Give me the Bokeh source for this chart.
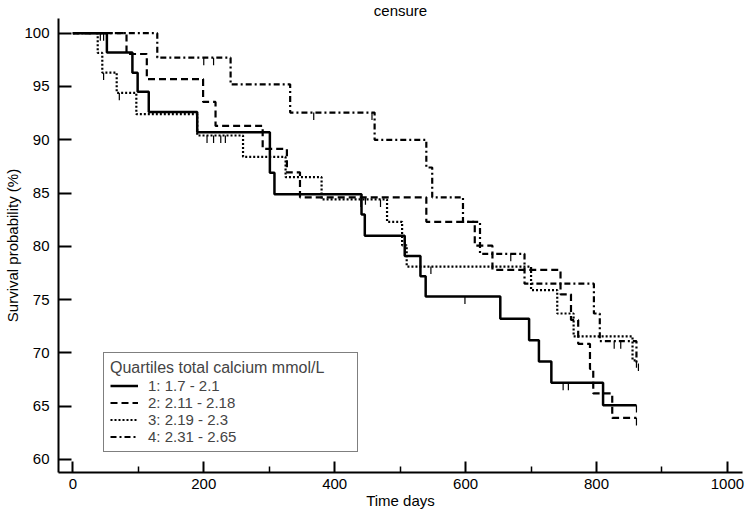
from bokeh.plotting import figure
from bokeh.models import Range1d, FixedTicker, Legend, LegendItem, Title
from bokeh.embed import file_html
from bokeh.resources import INLINE

# ---- data ----
# Quartile 1: 1.7 - 2.1 (solid)
q1_time = [0, 52, 91, 99, 116, 190, 301, 308, 441, 446, 507, 531, 539, 653, 697, 712, 731, 810]
q1_surv = [100, 98.2, 96.3, 94.5, 92.6, 90.7, 86.9, 84.9, 83.0, 81.0, 79.1, 77.2, 75.3, 73.2, 71.2, 69.2, 67.2, 65.1]
q1_end = 861
q1_cens = [599, 749, 757, 861]

# Quartile 2: 2.11 - 2.18 (dashed)
q2_time = [0, 82, 113, 199, 218, 290, 327, 347, 540, 614, 641, 745, 761, 772, 790, 795, 824]
q2_surv = [100, 98.05, 95.7, 93.55, 91.3, 89.15, 86.95, 84.6, 82.3, 80.06, 77.8, 75.5, 73.1, 70.85, 68.5, 66.2, 63.9]
q2_end = 861
q2_cens = [42, 47, 447, 861]

# Quartile 3: 2.19 - 2.3 (dotted)
q3_time = [0, 38, 45, 67, 97, 190, 260, 325, 380, 480, 503, 510, 700, 740, 765, 855]
q3_surv = [100, 98.15, 96.3, 94.4, 92.4, 90.4, 88.4, 86.5, 84.4, 82.3, 80.1, 78.1, 75.9, 73.7, 71.55, 69.3]
q3_end = 861
q3_cens = [47, 71, 205, 215, 226, 233, 440, 470, 547, 861]

# Quartile 4: 2.31 - 2.65 (dash-dot)
q4_time = [0, 129, 241, 332, 461, 540, 549, 596, 622, 690, 796, 805, 861]
q4_surv = [100, 97.7, 95.2, 92.55, 90.0, 87.4, 84.6, 82.3, 79.3, 76.5, 73.7, 71.1, 69.0]
q4_end = 864
q4_cens = [200, 215, 368, 457, 669, 827, 837, 864]

labels = ["1: 1.7 - 2.1", "2: 2.11 - 2.18", "3: 2.19 - 2.3", "4: 2.31 - 2.65"]
dashes = ["solid", "7 4", "2 2", "6 3 2 3"]
widths = [2.5, 2.2, 2.2, 2.2]

x_ticks = [0, 200, 400, 600, 800, 1000]
x_minor = [100, 300, 500, 700, 900]
y_ticks = [60, 65, 70, 75, 80, 85, 90, 95, 100]

FONT = "Liberation Sans"

p = figure(width=745, height=520, output_backend="svg", toolbar_location=None,
           x_range=Range1d(-21.9, 1023), y_range=Range1d(58.78, 101.38),
           min_border_left=58, min_border_right=3, min_border_top=18, min_border_bottom=48)
p.xgrid.visible = False
p.ygrid.visible = False
p.outline_line_color = None
p.background_fill_color = "white"
p.border_fill_color = "white"

p.title = Title(text="censure", align="center", offset=4, standoff=-1,
                text_font=FONT, text_font_size="15px", text_font_style="normal",
                text_color="black")

series = [(q1_time, q1_surv, q1_end, q1_cens),
          (q2_time, q2_surv, q2_end, q2_cens),
          (q3_time, q3_surv, q3_end, q3_cens),
          (q4_time, q4_surv, q4_end, q4_cens)]

items = []
for (t, s, end, cens), lab, dash, w in zip(series, labels, dashes, widths):
    xs = list(t) + [end]
    ys = list(s) + [s[-1]]
    r = p.step(xs, ys, mode="after", line_color="black", line_width=w, line_dash=dash)
    # censor marks: short vertical ticks hanging from the curve
    cy = []
    for c in cens:
        v = s[0]
        for ti, si in zip(t, s):
            if ti <= c:
                v = si
        cy.append(v)
    p.segment(x0=cens, x1=cens, y0=cy, y1=[v - 0.7 for v in cy], line_color="black", line_width=1.2)
    items.append(LegendItem(label=lab, renderers=[r]))

legend = Legend(items=items, location=(45, 20), title="Quartiles total calcium mmol/L",
                title_text_font=FONT, title_text_font_size="16px", title_text_font_style="normal",
                title_standoff=-4, label_text_font=FONT, label_text_font_size="15px",
                glyph_width=28, glyph_height=17, label_height=17, label_standoff=10,
                label_width=203, spacing=0, padding=6, margin=0,
                border_line_color="black", border_line_width=1.5,
                background_fill_color="white", background_fill_alpha=1.0)
p.add_layout(legend)

for ax in (p.xaxis[0], p.yaxis[0]):
    ax.axis_line_width = 2
    ax.axis_line_color = "black"
    ax.major_tick_line_width = 2
    ax.major_tick_line_color = "black"
    ax.minor_tick_line_width = 1.5
    ax.minor_tick_line_color = "black"
    ax.major_tick_out = 0
    ax.minor_tick_out = 0
    ax.major_label_text_font = FONT
    ax.major_label_text_font_size = "15px"
    ax.major_label_text_color = "black"
    ax.axis_label_text_font = FONT
    ax.axis_label_text_font_size = "15px"
    ax.axis_label_text_font_style = "normal"
    ax.axis_label_text_color = "black"
    ax.axis_label_standoff = 0

p.xaxis[0].ticker = FixedTicker(ticks=x_ticks, minor_ticks=x_minor)
p.xaxis[0].major_tick_in = 11
p.xaxis[0].minor_tick_in = 6
p.xaxis[0].major_label_standoff = 6
p.xaxis[0].axis_label = "Time days"

p.yaxis[0].ticker = FixedTicker(ticks=y_ticks, minor_ticks=[])
p.yaxis[0].major_tick_in = 13
p.yaxis[0].minor_tick_in = 0
p.yaxis[0].major_label_standoff = 9
p.yaxis[0].axis_label = "Survival probability (%)"

open("out.html", "w").write(file_html(p, INLINE))
